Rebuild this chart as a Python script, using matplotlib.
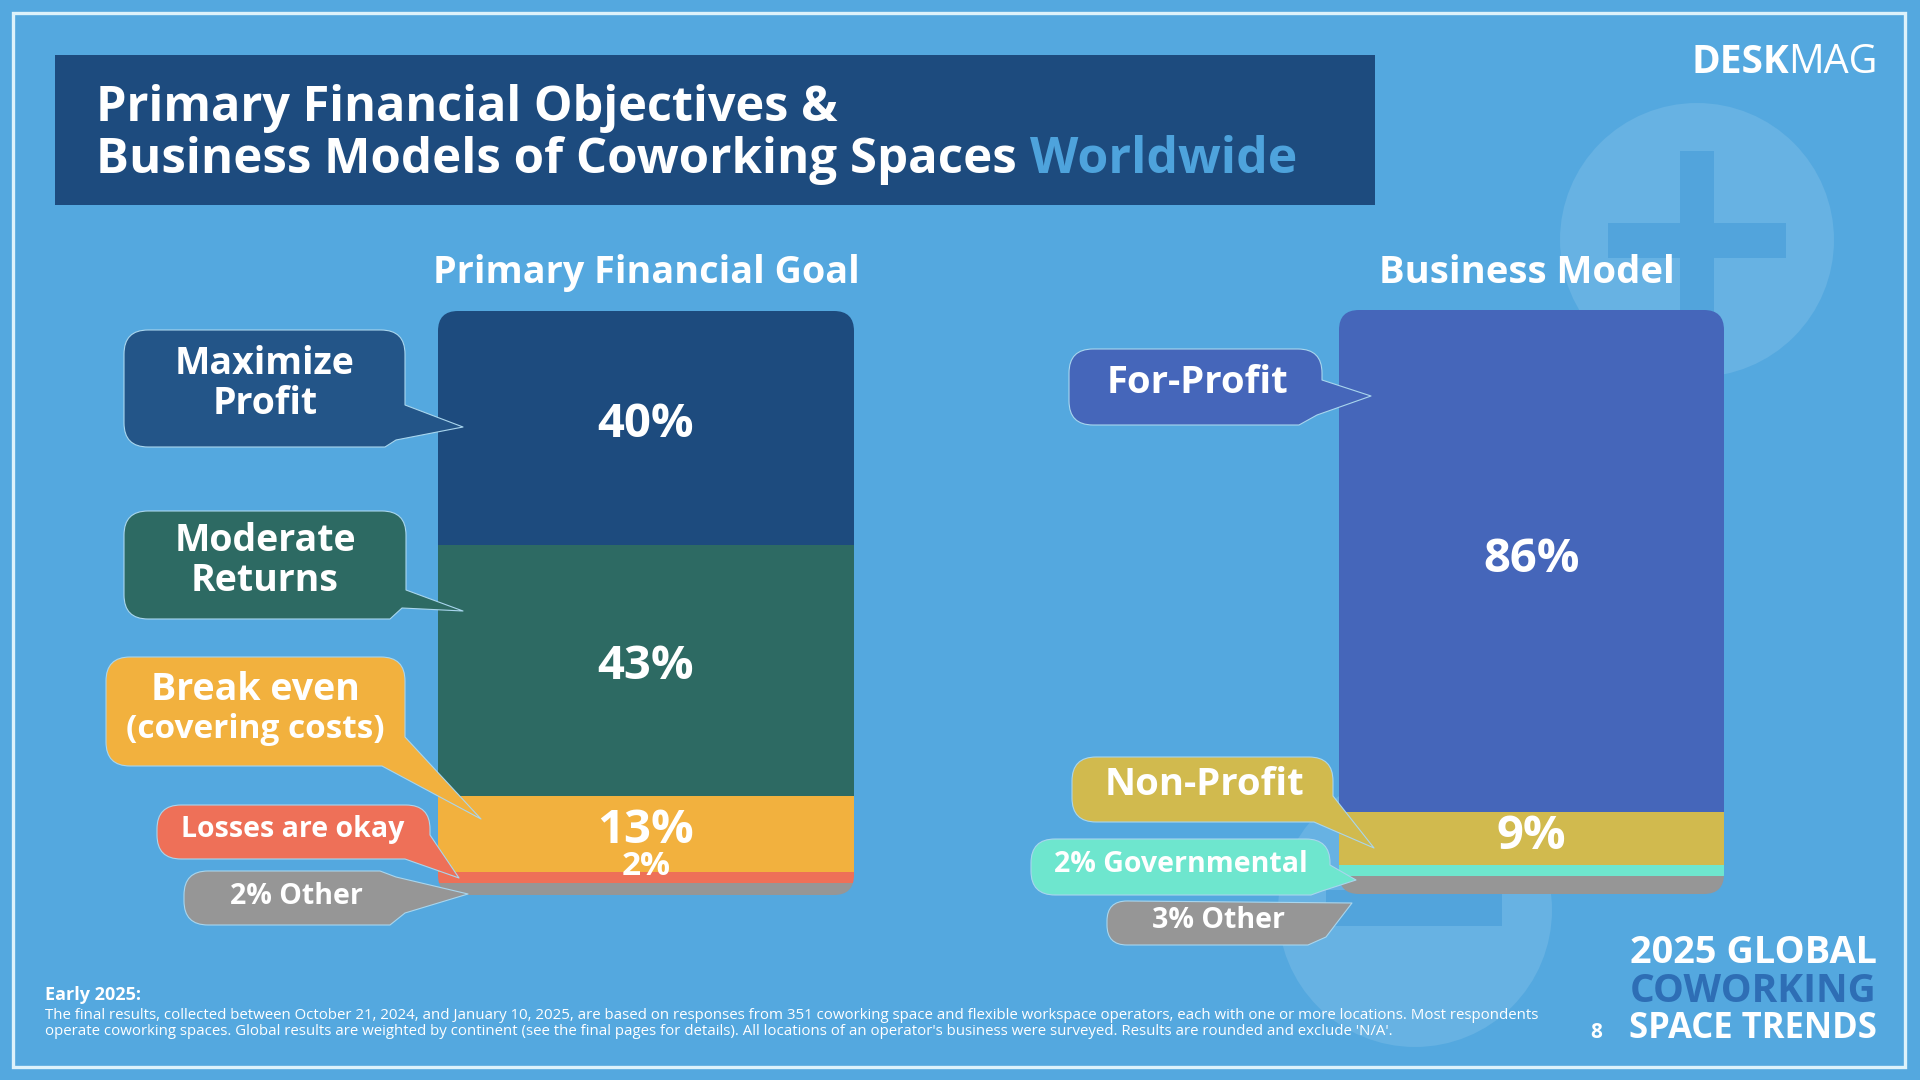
import matplotlib
matplotlib.use("Agg")
import matplotlib.pyplot as plt
from matplotlib.patches import Circle, Rectangle, FancyBboxPatch, PathPatch
from matplotlib.path import Path

plt.rcParams['font.family'] = ['Open Sans', 'DejaVu Sans']

# ---- data ----
goal_names = ["Maximize Profit", "Moderate Returns", "Break even", "Losses are okay", "Other"]
goal_values = [40, 43, 13, 2, 2]
goal_colors = ["#1D4B7E", "#2D6A63", "#F2B13E", "#EE7058", "#969696"]
goal_shift = [-3, -4, -3, -11, None]
goal_sizes = [34, 34, 34, 24, 0]

model_names = ["For-Profit", "Non-Profit", "Governmental", "Other"]
model_values = [86, 9, 2, 3]
model_colors = ["#4566BA", "#D1BA4E", "#6EE6CE", "#969696"]
model_shift = [-2, -2, None, None]
model_sizes = [34, 34, 0, 0]

BG = "#54A8DF"
fig = plt.figure(figsize=(19.2, 10.8), dpi=100, facecolor=BG)

def px_axes(z):
    a = fig.add_axes([0, 0, 1, 1], zorder=z)
    a.set_xlim(0, 1920); a.set_ylim(1080, 0); a.axis("off")
    a.patch.set_visible(False)
    return a

back = px_axes(0)
top = px_axes(5)

# background decorations
back.add_patch(Circle((1697, 240), 137, fc="#67B2E3", ec="none"))
back.add_patch(Rectangle((1608, 223), 178, 35, fc="#52A4DC", ec="none"))
back.add_patch(Rectangle((1680, 151), 34, 179, fc="#52A4DC", ec="none"))
back.add_patch(Circle((1415, 910), 137, fc="#67B2E3", ec="none"))
back.add_patch(Rectangle((1326, 890), 176, 36, fc="#52A4DC", ec="none"))
back.add_patch(Rectangle((13, 13), 1892, 1054, fc="none", ec="#DDF2FB", lw=2.4))

# header
back.add_patch(Rectangle((55, 55), 1320, 150, fc="#1D4B7E", ec="none"))
top.text(96, 121, "Primary Financial Objectives &", color="white", fontsize=35, fontweight="bold", va="baseline")
top.text(96, 173, "Business Models of Coworking Spaces", color="white", fontsize=35.4, fontweight="bold", va="baseline")
top.text(1030, 173, "Worldwide", color="#4EA3DC", fontsize=36, fontweight="bold", va="baseline")

top.text(646, 283, "Primary Financial Goal", color="white", fontsize=27.2, fontweight="bold", ha="center", va="baseline")
top.text(1527, 283, "Business Model", color="white", fontsize=27.5, fontweight="bold", ha="center", va="baseline")

# logo
tm = top.text(1878, 73, "MAG", color="white", fontsize=28.5, fontweight="normal", ha="right", va="baseline")
fig.canvas.draw()
bb = tm.get_window_extent()
top.text(bb.x0 + 1, 73, "DESK", color="white", fontsize=28, fontweight="bold", ha="right", va="baseline")

# stacked bars
def stacked(x0, x1, y0, y1, values, colors, shifts, sizes):
    ax = fig.add_axes([x0 / 1920, 1 - y1 / 1080, (x1 - x0) / 1920, (y1 - y0) / 1080], zorder=2)
    ax.set_xlim(-0.5, 0.5); ax.set_ylim(sum(values), 0); ax.axis("off")
    clip = FancyBboxPatch((x0, y0), x1 - x0, y1 - y0, boxstyle="round,pad=0,rounding_size=20",
                          transform=top.transData, fc="none", ec="none")
    cum = 0
    for v, c, s, fs in zip(values, colors, shifts, sizes):
        bars = ax.bar(0, v, bottom=cum, width=1, color=c, lw=0)
        for b in bars:
            b.set_clip_path(clip)
        if s is not None:
            ax.annotate(f"{v}%", (0, cum + v / 2), xytext=(0, -s * 0.72), textcoords="offset points",
                        color="white", fontsize=fs, fontweight="bold", ha="center", va="center",
                        annotation_clip=False, zorder=6)
        cum += v
    return ax

stacked(438, 854, 311, 895, goal_values, goal_colors, goal_shift, goal_sizes)
stacked(1339, 1724, 310, 894, model_values, model_colors, model_shift, model_sizes)

# callouts: rounded box whose lower right corner is replaced by a pointer
def callout(x0, y0, x1, y1, tail, color, r=24, top_right=True):
    M, L, C = Path.MOVETO, Path.LINETO, Path.CURVE3
    v = [(x0 + r, y0)]; k = [M]
    if top_right:
        v += [(x1 - r, y0), (x1, y0), (x1, y0 + r)]; k += [L, C, C]
    for p in tail:
        v.append(p); k.append(L)
    v += [(x0 + r, y1), (x0, y1), (x0, y1 - r), (x0, y0 + r), (x0, y0), (x0 + r, y0)]
    k += [L, C, C, L, C, C]
    top.add_patch(PathPatch(Path(v, k), fc=color, ec="#A9D6EE", lw=0.8, joinstyle="round"))

callout(124, 330, 405, 447, [(405, 405), (463, 427), (396, 440), (385, 447)], "#235588")
callout(124, 511, 406, 619, [(406, 590), (463, 611), (402, 608), (390, 619)], "#2D6A63")
callout(106, 657, 405, 766, [(405, 737), (481, 819), (382, 766)], "#F2B13E")
callout(157, 805, 430, 859, [(430, 835), (459, 878), (405, 859)], "#EE7058")
callout(184, 871, 402, 925, [(380, 871), (396, 877), (468, 894), (405, 913), (390, 925)], "#969696", top_right=False)
callout(1069, 349, 1322, 425, [(1322, 380), (1371, 396), (1317, 415), (1299, 425)], "#4566BA")
callout(1072, 757, 1333, 822, [(1333, 796), (1374, 848), (1314, 822)], "#D1BA4E")
callout(1031, 839, 1330, 895, [(1330, 865), (1356, 880), (1322, 891), (1311, 895)], "#6EE6CE")
callout(1107, 901, 1352, 945, [(1352, 903), (1326, 937), (1308, 945)], "#969696", r=20, top_right=False)

def lab(x, y, s, fs):
    top.text(x, y + 4, s, color="white", fontsize=fs, fontweight="bold", ha="center", va="center")

lab(265, 360, "Maximize", 27); lab(265, 400, "Profit", 27)
lab(265, 537, "Moderate", 27); lab(265, 577, "Returns", 27)
lab(255, 686, "Break even", 27); lab(255, 726, "(covering costs)", 24)
lab(293, 826, "Losses are okay", 20.5)
lab(296, 892, f"{goal_values[4]}% {goal_names[4]}", 20.5)
lab(1197, 379, model_names[0], 27.5)
lab(1204, 781, model_names[1], 27.5)
lab(1181, 861, f"{model_values[2]}% {model_names[2]}", 20.5)
lab(1219, 917, f"{model_values[3]}% {model_names[3]}", 20.5)

# footer
top.text(1877, 963, "2025 GLOBAL", color="white", fontsize=27.3, fontweight="bold", ha="right", va="baseline")
top.text(1877, 1002, "COWORKING", color="#2E6EB5", fontsize=28, fontweight="bold", ha="right", va="baseline")
top.text(1877, 1038, "SPACE TRENDS", color="white", fontsize=24.9, fontweight="bold", ha="right", va="baseline")
top.text(1596, 1038, "8", color="white", fontsize=15, fontweight="bold", ha="center", va="baseline")
top.text(45, 1000, "Early 2025:", color="white", fontsize=13, fontweight="bold", va="baseline")
top.text(45, 1019, "The final results, collected between October 21, 2024, and January 10, 2025, are based on responses from 351 coworking space and flexible workspace operators, each with one or more locations. Most respondents",
         color="white", fontsize=10.85, va="baseline")
top.text(45, 1035, "operate coworking spaces. Global results are weighted by continent (see the final pages for details). All locations of an operator's business were surveyed. Results are rounded and exclude 'N/A'.",
         color="white", fontsize=10.85, va="baseline")

fig.savefig("out.png", dpi=100, facecolor=BG)
